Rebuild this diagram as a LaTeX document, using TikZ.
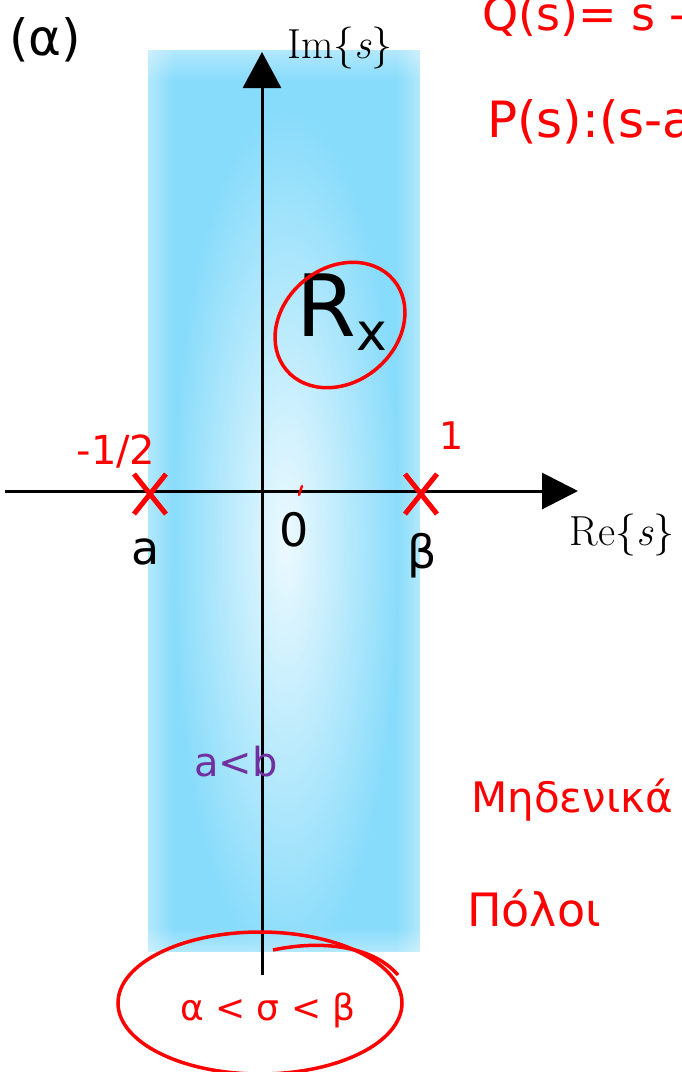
\documentclass[tikz,border=0pt]{standalone}
\usepackage{fontspec}
\newfontfamily\dv{DejaVu Sans}
\newfontfamily\hand{DejaVu Sans}
\usetikzlibrary{arrows.meta,fadings}
\definecolor{sDeep}{RGB}{136,220,251}
\definecolor{inkred}{RGB}{255,0,0}
\definecolor{inkpurple}{RGB}{112,48,160}
\tikzfading[name=glowfade, inner color=transparent!0, outer color=transparent!100]
\tikzfading[name=fadeR, left color=transparent!0, right color=transparent!100]
\tikzfading[name=fadeL, left color=transparent!100, right color=transparent!0]
\tikzfading[name=fadeD, top color=transparent!0, bottom color=transparent!100]
\tikzfading[name=fadeU, top color=transparent!100, bottom color=transparent!0]
\tikzset{
  axis/.style={line width=3pt,black},
  cross/.style={inkred,line width=5pt},
  lbl/.style={font=\dv\fontsize{46}{50}\selectfont,inner sep=0pt},
  ink/.style={inkred,inner sep=0pt},
  loop/.style={inkred,line width=3.5pt},
  axlbl/.style={inner sep=0pt,font=\fontsize{42}{46}\selectfont},
  rim/.style={white,fill opacity=0.36},
}
\begin{document}
\begin{tikzpicture}[x=1pt,y=-1pt]
\clip (0,0) rectangle (681,1072);
\fill[white] (0,0) rectangle (681,1072);
% strip (region of convergence)
\fill[sDeep] (148,50) rectangle (420,952);
\fill[rim,path fading=fadeR] (148,50) rectangle (174,952);
\fill[rim,path fading=fadeL] (396,50) rectangle (420,952);
\fill[rim,path fading=fadeD] (148,50) rectangle (420,80);
\fill[rim,path fading=fadeU] (148,928) rectangle (420,952);
\fill[white,fill opacity=0.85,path fading=glowfade] (286,540) ellipse [x radius=115, y radius=430];
% axes
\coordinate (ybot) at (262,975);
\coordinate (ytop) at (262,52);
\coordinate (xl) at (5,491);
\coordinate (xr) at (578,491);
\draw[axis,-{Triangle[length=36pt,width=38pt]}] (ybot) -- (ytop);
\draw[axis,-{Triangle[length=36pt,width=36pt]}] (xl) -- (xr);
\node[axlbl] (im) at (340,48) {Im\{\textit{s}\}};
\node[axlbl] (re) at (622,535) {Re\{\textit{s}\}};
\node[lbl,font=\dv\fontsize{50}{54}\selectfont] (alab) at (45,40) {(α)};
% poles
\coordinate (pa) at (150,494);
\coordinate (pb) at (421,494);
\draw[cross] ([shift={(-16,-20)}]pa) -- ([shift={(16,20)}]pa) ([shift={(16,-20)}]pa) -- ([shift={(-16,20)}]pa);
\draw[cross] ([shift={(-16,-20)}]pb) -- ([shift={(16,20)}]pb) ([shift={(16,-20)}]pb) -- ([shift={(-16,20)}]pb);
\node[lbl] (la) at (146,552) {a};
\node[lbl] (l0) at (294,530) {0};
\node[lbl] (lb) at (422,556) {β};
% Rx
\node[inner sep=0pt] (rx) at (342,312) {\dv\fontsize{86}{90}\selectfont R\fontsize{52}{56}\selectfont\raisebox{-14pt}{x}};
\draw[loop] (340,325) ellipse [x radius=70, y radius=57, rotate=40];
% handwriting
\draw[inkred,line width=2.5pt,line cap=round] (302,486) -- (299,495);
\node[ink,anchor=base west,font=\hand\fontsize{46}{50}\selectfont] (q) at (482,30) {Q(s)= s -};
\node[ink,anchor=base west,font=\hand\fontsize{50}{54}\selectfont] (p) at (487,137) {P(s):(s-a};
\node[ink,font=\hand\fontsize{40}{44}\selectfont] (half) at (116,452) {-1/2};
\node[ink,font=\hand\fontsize{38}{42}\selectfont] (one) at (452,436) {1};
\node[inkpurple,inner sep=0pt,font=\hand\fontsize{40}{44}\selectfont] (ab) at (236,762) {a<b};
\node[ink,font=\hand\fontsize{42}{46}\selectfont] (zeros) at (572,800) {Μηδενικά};
\node[ink,font=\hand\fontsize{46}{50}\selectfont] (poles) at (534,908) {Πόλοι};
\node[ink,font=\hand\fontsize{36}{40}\selectfont] (ineq) at (268,1010) {α < σ < β};
\draw[loop] (260,1003) ellipse [x radius=142, y radius=71];
\draw[loop] (273,950) .. controls (320,940) and (372,945) .. (398,975);
\end{tikzpicture}
\end{document}
